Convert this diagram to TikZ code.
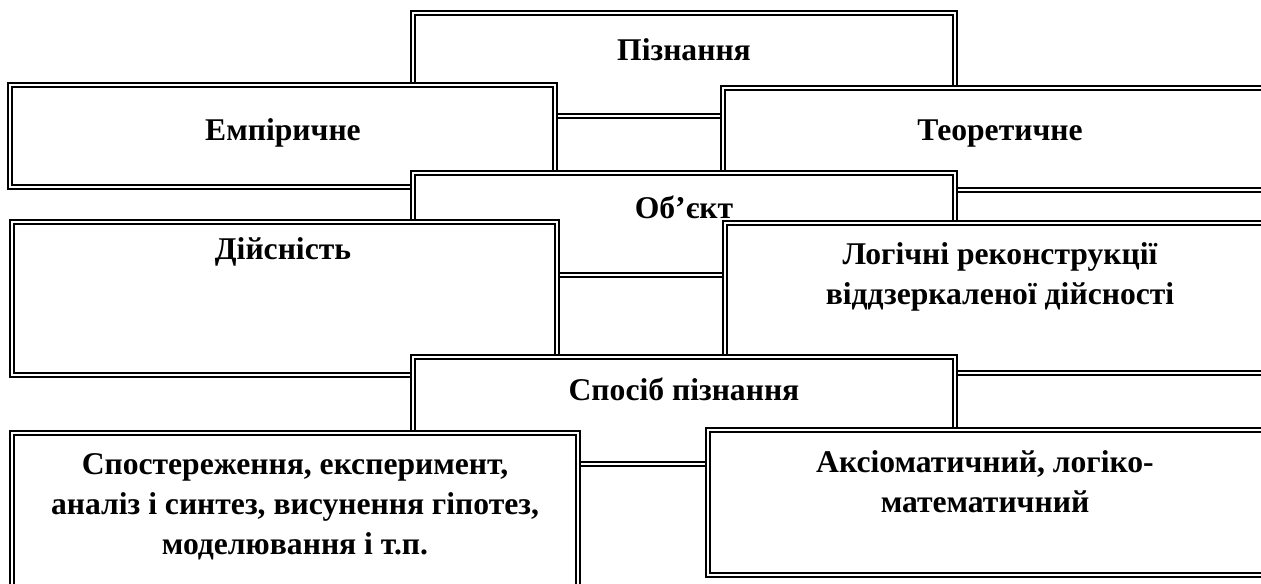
\documentclass[tikz,border=0pt]{standalone}
\usepackage{fontspec}
\setmainfont{Liberation Serif}
\usepackage{xcolor}
\usepackage{tikz}
\usetikzlibrary{positioning, fit}
\definecolor{kline}{HTML}{000000}
\tikzset{
  cellbox/.style={draw=kline, double=white, line width=0.05cm, double distance=0.035cm,
                  fill=white, inner sep=0pt},
  celltext/.style={font=\fontsize{18}{22.7}\selectfont\bfseries, align=center, inner sep=0pt},
}
\begin{document}
\begin{tikzpicture}[x=0.02cm, y=-0.02cm]

  \useasboundingbox (0,0) rectangle (1261,583);
  \clip (0,0) rectangle (1261,583);

  %% Row 1 — Пізнання
  \node[cellbox, fit={(413,13) (955,116)}] (pizn) {};
  \node[celltext, anchor=base] (piznT) at (684,60) {Пізнання};
  \node[cellbox, fit={(10,85) (555,187)}] (emp) {};
  \node[celltext, anchor=base] (empT) at (283,140) {Емпіричне};
  \node[cellbox, fit={(723,88) (1290,190)}] (teor) {};
  \node[celltext, anchor=base] (teorT) at (1000,140) {Теоретичне};

  %% Row 2 — Об'єкт
  \node[cellbox, fit={(413,173) (955,275)}] (obj) {};
  \node[celltext, anchor=base] (objT) at (684,218) {Об’єкт};
  \node[cellbox, fit={(12,222) (557,375)}] (real) {};
  \node[celltext, anchor=base] (realT) at (283,259) {Дійсність};
  \node[cellbox, fit={(725,223) (1290,373)}] (logic) {};
  \node[celltext] (logicT) at (1000,277)
    {Логічні реконструкції\\віддзеркаленої дійсності};

  %% Row 3 — Спосіб пізнання
  \node[cellbox, fit={(413,357) (955,464)}] (way) {};
  \node[celltext, anchor=base] (wayT) at (684,400) {Спосіб пізнання};
  \node[cellbox, fit={(12,433) (578,620)}] (obs) {};
  \node[celltext] (obsT) at (295,507)
    {Спостереження, експеримент,\\аналіз і синтез, висунення гіпотез,\\моделювання і т.п.};
  \node[cellbox, fit={(708,430) (1290,575)}] (axiom) {};
  \node[celltext] (axiomT) at (985,482)
    {Аксіоматичний, логіко-\\математичний};

\end{tikzpicture}
\end{document}
